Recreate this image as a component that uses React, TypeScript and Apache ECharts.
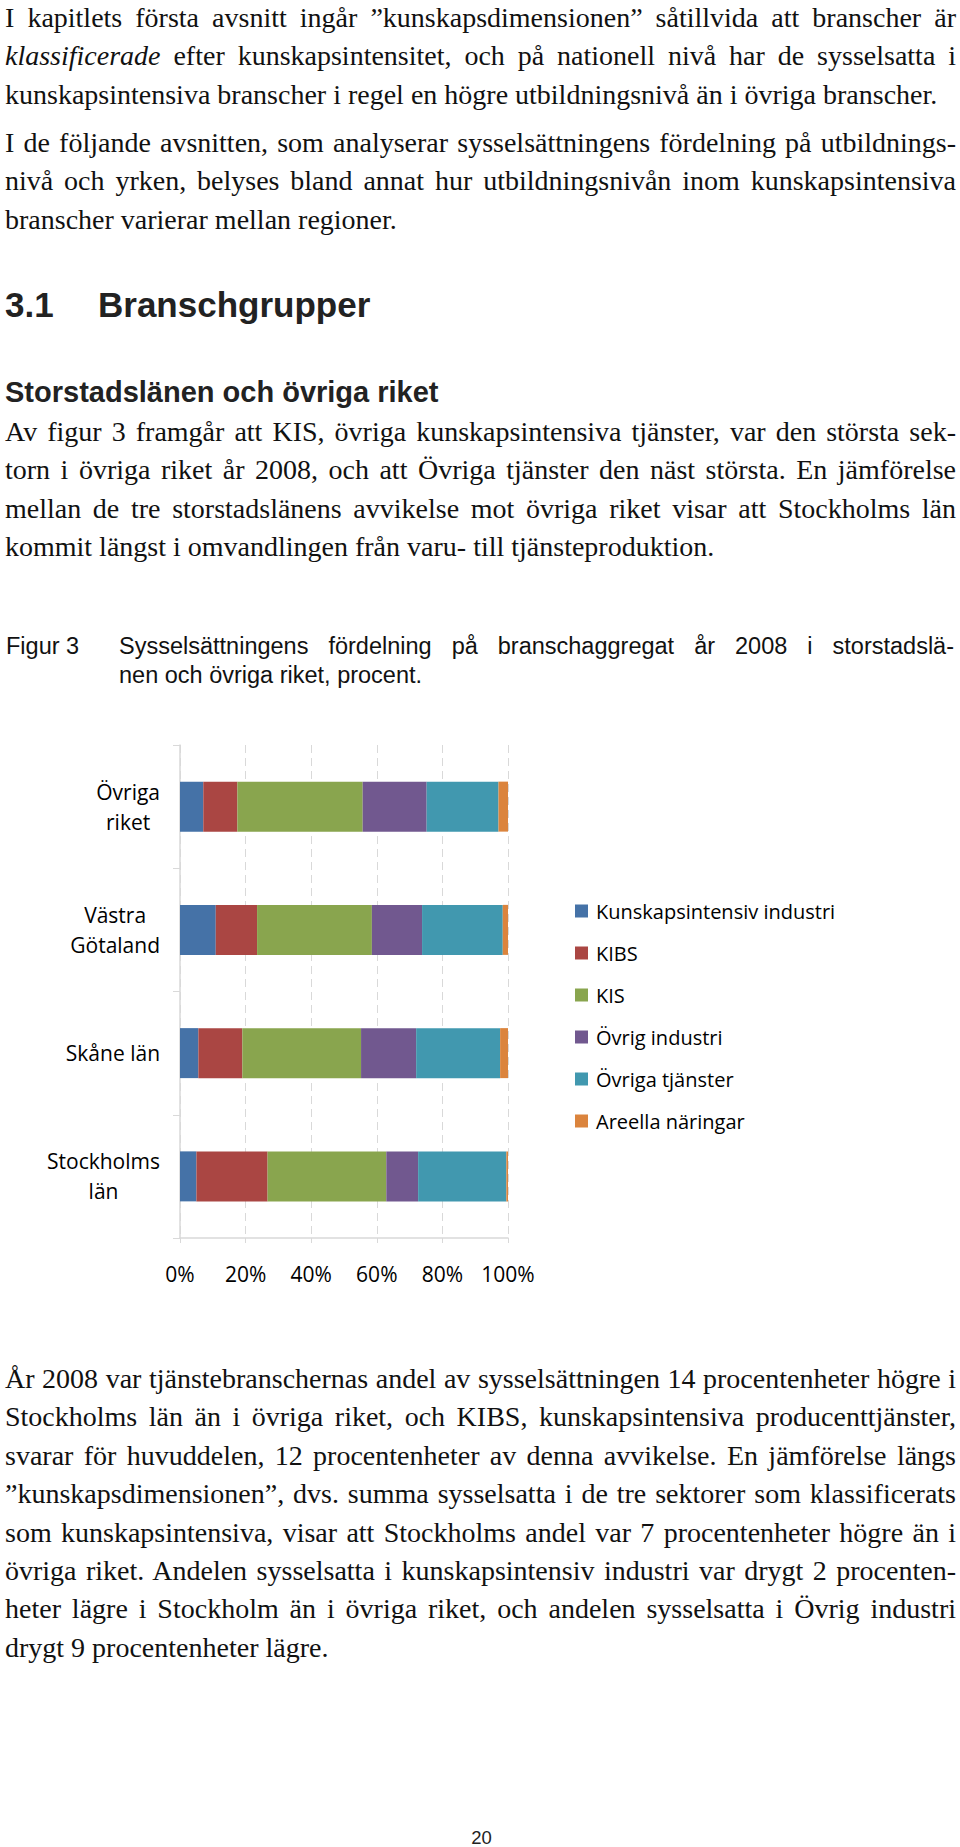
import React, { useEffect, useRef } from "react";
import * as echarts from "echarts";

// ---------- chart data ----------
const categories = ["Övriga\nriket", "Västra\nGötaland", "Skåne län", "Stockholms\nlän"];
const seriesNames = [
  "Kunskapsintensiv industri",
  "KIBS",
  "KIS",
  "Övrig industri",
  "Övriga tjänster",
  "Areella näringar",
];
const kunskapsintensivIndustri = [7.1, 10.9, 5.6, 5.0];
const kibs = [10.4, 12.6, 13.4, 21.7];
const kis = [38.2, 35.0, 36.2, 36.2];
const ovrigIndustri = [19.5, 15.3, 16.8, 9.7];
const ovrigaTjanster = [21.9, 24.6, 25.6, 26.9];
const areellaNaringar = [2.9, 1.6, 2.4, 0.5];
const xTickMin = 0;
const xTickMax = 100;
const xTickStep = 20;
const seriesColors = ["#4572A7", "#AA4643", "#89A54E", "#71588F", "#4198AF", "#DB843D"];

const chartFont = '"Open Sans", "Noto Sans", sans-serif';
const serif = '"Liberation Serif", "Times New Roman", serif';
const sans = '"Liberation Sans", Arial, sans-serif';

function Chart() {
  const ref = useRef<HTMLDivElement>(null);
  useEffect(() => {
    if (!ref.current) return;
    const chart = echarts.init(ref.current, null, { renderer: "svg" });
    const data = [kunskapsintensivIndustri, kibs, kis, ovrigIndustri, ovrigaTjanster, areellaNaringar];
    const gridColor = "#d9d9d9";
    chart.setOption({
      animation: false,
      color: seriesColors,
      grid: { left: 180, top: 25, width: 328, height: 493 },
      legend: {
        orient: "vertical",
        left: 570,
        top: 176,
        itemWidth: 13,
        itemHeight: 13,
        itemGap: 22,
        icon: "rect",
        data: seriesNames,
        textStyle: { fontFamily: chartFont, fontSize: 20, color: "#000", lineHeight: 20, padding: [0, 0, 0, 3] },
      },
      xAxis: {
        type: "value",
        min: xTickMin,
        max: xTickMax,
        interval: xTickStep,
        axisLine: { show: true, lineStyle: { color: gridColor, width: 1.5 } },
        axisTick: { show: true, length: 5, lineStyle: { color: gridColor } },
        splitLine: { show: true, lineStyle: { color: gridColor, type: [8, 5], width: 1 } },
        axisLabel: { formatter: "{value}%", fontFamily: chartFont, fontSize: 21, color: "#000", margin: 25 },
      },
      yAxis: {
        type: "category",
        inverse: true,
        data: categories,
        axisLine: { show: true, lineStyle: { color: gridColor, width: 1.5 } },
        axisTick: { show: true, length: 7, lineStyle: { color: gridColor } },
        axisLabel: {
          margin: 20,
          align: "right",
          formatter: (v: string) => v.split("\n").map((s) => `{c|${s}}`).join("\n"),
          rich: { c: { align: "center", fontSize: 21, lineHeight: 30, fontFamily: chartFont, color: "#000" } },
        },
      },
      series: seriesNames.map((name, i) => ({
        type: "bar",
        name,
        stack: "total",
        barWidth: 50,
        data: data[i],
      })),
    });
    return () => chart.dispose();
  }, []);
  return <div ref={ref} style={{ position: "absolute", left: 0, top: 720, width: 960, height: 600 }} />;
}

function Para({ top, lines }: { top: number; lines: React.ReactNode[] }) {
  return (
    <div
      style={{
        position: "absolute",
        left: 5,
        top,
        width: 951,
        fontFamily: serif,
        fontSize: 28,
        lineHeight: "38.4px",
        color: "#111",
      }}
    >
      {lines.map((l, i) => (
        <div key={i} style={{ textAlign: "justify", textAlignLast: i === lines.length - 1 ? "left" : "justify" } as any}>
          {l}
        </div>
      ))}
    </div>
  );
}

export default function App() {
  return (
    <div style={{ position: "absolute", left: 0, top: 0, width: 960, height: 1847, background: "#fff", overflow: "hidden" }}>
      <Para
        top={-1}
        lines={[
          "I kapitlets första avsnitt ingår ”kunskapsdimensionen” såtillvida att branscher är",
          <>
            <i>klassificerade</i> efter kunskapsintensitet, och på nationell nivå har de sysselsatta i
          </>,
          "kunskapsintensiva branscher i regel en högre utbildningsnivå än i övriga branscher.",
        ]}
      />
      <Para
        top={124}
        lines={[
          "I de följande avsnitten, som analyserar sysselsättningens fördelning på utbildnings-",
          "nivå och yrken, belyses bland annat hur utbildningsnivån inom kunskapsintensiva",
          "branscher varierar mellan regioner.",
        ]}
      />
      <div style={{ position: "absolute", left: 5, top: 287, fontFamily: sans, fontWeight: "bold", fontSize: 35, lineHeight: "35px", color: "#222", whiteSpace: "nowrap" }}>
        3.1
      </div>
      <div style={{ position: "absolute", left: 98, top: 287, fontFamily: sans, fontWeight: "bold", fontSize: 35, lineHeight: "35px", color: "#222", whiteSpace: "nowrap" }}>
        Branschgrupper
      </div>
      <div style={{ position: "absolute", left: 5, top: 378, fontFamily: sans, fontWeight: "bold", fontSize: 29, lineHeight: "29px", color: "#222", whiteSpace: "nowrap" }}>
        Storstadslänen och övriga riket
      </div>
      <Para
        top={413}
        lines={[
          "Av figur 3 framgår att KIS, övriga kunskapsintensiva tjänster, var den största sek-",
          "torn i övriga riket år 2008, och att Övriga tjänster den näst största. En jämförelse",
          "mellan de tre storstadslänens avvikelse mot övriga riket visar att Stockholms län",
          "kommit längst i omvandlingen från varu- till tjänsteproduktion.",
        ]}
      />
      <div style={{ position: "absolute", left: 6, top: 632, fontFamily: sans, fontSize: 23.5, lineHeight: "29px", color: "#111", whiteSpace: "nowrap" }}>
        Figur 3
      </div>
      <div style={{ position: "absolute", left: 119, top: 632, width: 835, fontFamily: sans, fontSize: 23.5, lineHeight: "29px", color: "#111" }}>
        <div style={{ textAlign: "justify", textAlignLast: "justify" } as any}>
          Sysselsättningens fördelning på branschaggregat år 2008 i storstadslä-
        </div>
        <div>nen och övriga riket, procent.</div>
      </div>
      <Chart />
      <Para
        top={1360}
        lines={[
          "År 2008 var tjänstebranschernas andel av sysselsättningen 14 procentenheter högre i",
          "Stockholms län än i övriga riket, och KIBS, kunskapsintensiva producenttjänster,",
          "svarar för huvuddelen, 12 procentenheter av denna avvikelse. En jämförelse längs",
          "”kunskapsdimensionen”, dvs. summa sysselsatta i de tre sektorer som klassificerats",
          "som kunskapsintensiva, visar att Stockholms andel var 7 procentenheter högre än i",
          "övriga riket. Andelen sysselsatta i kunskapsintensiv industri var drygt 2 procenten-",
          "heter lägre i Stockholm än i övriga riket, och andelen sysselsatta i Övrig industri",
          "drygt 9 procentenheter lägre.",
        ]}
      />
      <div style={{ position: "absolute", left: 0, top: 1829, width: 963, textAlign: "center", fontFamily: sans, fontSize: 18.5, lineHeight: "18.5px", color: "#222" }}>
        20
      </div>
    </div>
  );
}
